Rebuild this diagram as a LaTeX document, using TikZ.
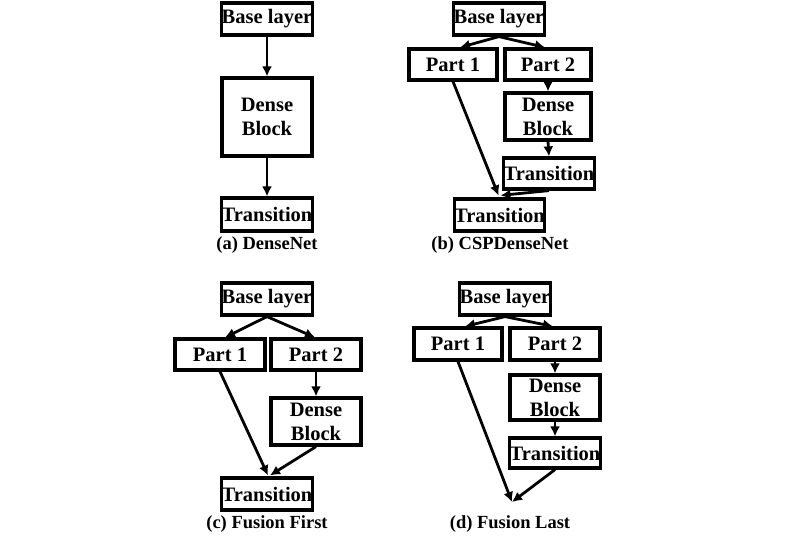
\documentclass[tikz,border=0pt]{standalone}
\usepackage{fontspec}
\setmainfont{Liberation Serif}
\usetikzlibrary{arrows.meta}
\begin{document}
\begin{tikzpicture}[x=1pt,y=-1pt,
  box/.style={draw=black,line width=3.2pt,fill=white,inner sep=0pt,align=center,
    font=\fontsize{20.5}{24}\selectfont\bfseries},
  arr/.style={line width=2.8pt,-{Latex[length=10pt,width=10pt]}},
  captext/.style={inner sep=0pt,font=\fontsize{18.5}{22}\selectfont\bfseries}]
\useasboundingbox (0,0) rectangle (800,538);
% (a)
\node[box,minimum width=90pt,minimum height=32pt] (aBase) at (267,19) {Base layer};
\node[box,minimum width=90pt,minimum height=78pt] (aDense) at (267,117) {Dense\\Block};
\node[box,minimum width=90pt,minimum height=33pt] (aTr) at (267,214.5) {Transition};
\draw[arr] (aBase.south) -- (aDense.north);
\draw[arr] (aDense.south) -- (aTr.north);
\node[captext] (aCap) at (267,245) {(a) DenseNet};
% (b)
\node[box,minimum width=90pt,minimum height=32pt] (bBase) at (499,19) {Base layer};
\node[box,minimum width=88pt,minimum height=31pt] (bP1) at (453,64.5) {Part 1};
\node[box,minimum width=86pt,minimum height=31pt] (bP2) at (548,64.5) {Part 2};
\node[box,minimum width=86pt,minimum height=47pt] (bDense) at (548,116.5) {Dense\\Block};
\node[box,minimum width=88pt,minimum height=31pt] (bTr2) at (549,173.5) {Transition};
\node[box,minimum width=89pt,minimum height=32pt] (bTr) at (499.5,215) {Transition};
\draw[arr] (bBase.south) -- ([xshift=7pt]bP1.north);
\draw[arr] (bBase.south) -- ([xshift=-3pt]bP2.north);
\draw[arr] (bP2.south) -- (bDense.north);
\draw[arr] (bDense.south) -- (bTr2.north);
\draw[arr] (bP1.south) -- ([xshift=-1pt,yshift=2pt]bTr.north);
\draw[arr] (bTr2.south) -- ([xshift=1pt,yshift=2pt]bTr.north);
\node[captext] (bCap) at (500,245) {(b) CSPDenseNet};
% (c)
\node[box,minimum width=90pt,minimum height=32pt] (cBase) at (267,299) {Base layer};
\node[box,minimum width=90pt,minimum height=31pt] (cP1) at (220,354.5) {Part 1};
\node[box,minimum width=90pt,minimum height=31pt] (cP2) at (316,354.5) {Part 2};
\node[box,minimum width=90pt,minimum height=47pt] (cDense) at (316,421.5) {Dense\\Block};
\node[box,minimum width=90pt,minimum height=32pt] (cTr) at (267,494) {Transition};
\draw[arr] (cBase.south) -- ([xshift=5pt]cP1.north);
\draw[arr] (cBase.south) -- ([xshift=-1pt]cP2.north);
\draw[arr] (cP2.south) -- (cDense.north);
\draw[arr] (cP1.south) -- ([xshift=1pt,yshift=1pt]cTr.north);
\draw[arr] (cDense.south) -- ([xshift=3pt,yshift=1pt]cTr.north);
\node[captext] (cCap) at (267,524) {(c) Fusion First};
% (d)
\node[box,minimum width=90pt,minimum height=32pt] (dBase) at (505,299) {Base layer};
\node[box,minimum width=88pt,minimum height=32pt] (dP1) at (458,344) {Part 1};
\node[box,minimum width=90pt,minimum height=32pt] (dP2) at (555,344) {Part 2};
\node[box,minimum width=90pt,minimum height=45pt] (dDense) at (555,397.5) {Dense\\Block};
\node[box,minimum width=90pt,minimum height=30pt] (dTr) at (555,453) {Transition};
\coordinate (dJoin) at (512,502);
\draw[arr] (dBase.south) -- ([xshift=7pt]dP1.north);
\draw[arr] (dBase.south) -- ([xshift=-2pt]dP2.north);
\draw[arr] (dP2.south) -- (dDense.north);
\draw[arr] (dDense.south) -- (dTr.north);
\draw[arr] (dP1.south) -- (dJoin);
\draw[arr] (dTr.south) -- (dJoin);
\node[captext] (dCap) at (510,524) {(d) Fusion Last};
\end{tikzpicture}
\end{document}
